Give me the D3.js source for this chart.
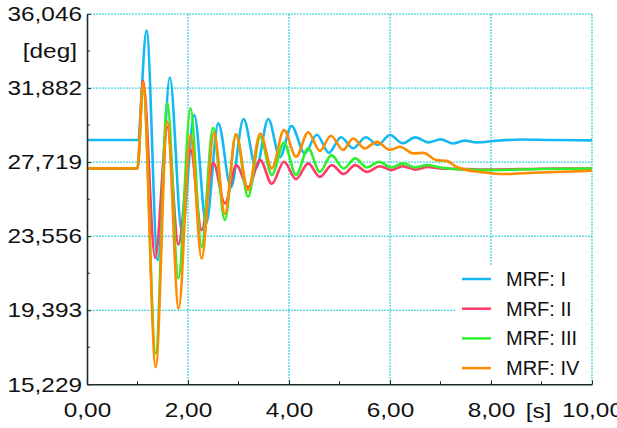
<!DOCTYPE html>
<html>
<head>
<meta charset="utf-8">
<script src="https://cdn.jsdelivr.net/npm/d3@7"></script>
<style>
  body { margin: 0; background: #fff; }
  svg { display: block; font-family: "Liberation Sans", Arial, sans-serif; }
</style>
</head>
<body>
<svg id="chart" width="617" height="428"></svg>
<script>
// tick labels
var xTicks = [0, 2, 4, 6, 8, 10];
var xMinor = [1, 3, 5, 7, 9];
var yTicks = [15.229, 19.393, 23.556, 27.719, 31.882, 36.046];

var names = ["MRF: I", "MRF: II", "MRF: III", "MRF: IV"];
var colors = ["#14b9f2", "#ff3a66", "#2ef02e", "#ff8c00"];

// [time s, angle deg]
var mrf1 = [[0,28.96],[1.0,28.96],[1.18,35.11],[1.40,22.21],[1.64,32.48],[1.88,23.8],[2.125,30.36],[2.36,24.29],
  [2.60,29.90],[2.85,26.3],[3.10,30.14],[3.35,27.4],[3.59,30.14],[3.82,28.0],[4.05,29.75],[4.31,28.21],
  [4.55,29.26],[4.79,28.25],[5.03,29.12],[5.27,28.5],[5.52,29.12],[5.76,28.68],[6.0,29.24],[6.25,28.78],
  [6.5,29.11],[6.76,28.83],[7.0,29.0],[7.25,28.77],[7.48,28.93],[7.72,28.83],[8.1,28.92],[8.6,28.99],
  [9.2,28.96],[10,28.94]];
var mrf2 = [[0,27.365],[1.0,27.365],[1.11,32.3],[1.35,22.34],[1.59,29.7],[1.81,23.09],[2.05,28.43],[2.27,23.89],
  [2.50,27.68],[2.73,25.4],[2.96,27.55],[3.19,26.3],[3.43,27.83],[3.66,26.5],[3.90,27.74],[4.14,26.76],
  [4.38,27.65],[4.61,26.89],[4.85,27.55],[5.08,27.05],[5.31,27.55],[5.54,27.17],[5.80,27.49],[6.03,27.27],
  [6.25,27.49],[6.5,27.3],[6.75,27.45],[7.0,27.36],[7.5,27.33],[8.0,27.3],[9.0,27.35],[10,27.36]];
var mrf3 = [[0,27.365],[1.0,27.365],[1.11,32.0],[1.36,16.96],[1.59,31.06],[1.81,21.18],[2.05,30.74],[2.27,22.95],
  [2.495,29.65],[2.73,24.46],[2.95,29.3],[3.19,25.77],[3.43,29.14],[3.66,26.99],[3.90,28.80],[4.14,27.0],
  [4.38,28.49],[4.61,27.17],[4.84,28.11],[5.08,27.36],[5.31,27.93],[5.54,27.42],[5.79,27.74],[6.02,27.42],
  [6.26,27.65],[6.5,27.42],[6.73,27.55],[7.0,27.42],[7.39,27.31],[7.9,27.27],[9.0,27.33],[10,27.36]];
var mrf4 = [[0,27.365],[1.0,27.365],[1.11,32.2],[1.36,16.20],[1.59,29.99],[1.815,19.49],[2.05,29.24],[2.27,22.30],
  [2.515,29.37],[2.73,24.80],[2.95,29.28],[3.19,26.14],[3.43,29.33],[3.66,27.36],[3.90,29.52],[4.14,28.02],
  [4.38,29.40],[4.61,28.35],[4.83,29.2],[5.07,28.4],[5.27,29.05],[5.50,28.49],[5.74,28.86],[6.0,28.40],
  [6.20,28.58],[6.46,28.21],[6.66,28.24],[6.92,27.83],[7.12,27.79],[7.32,27.45],[7.52,27.27],[7.78,27.17],
  [8.05,27.08],[8.31,27.05],[8.84,27.12],[10,27.23]];

var series = [mrf1, mrf2, mrf3, mrf4];

var svg = d3.select("#chart");
var pLeft = 87, pRight = 592, pTop = 14, pBottom = 384.3;

var x = d3.scaleLinear().domain([0, 10]).range([pLeft, pRight]);
var y = d3.scaleLinear().domain([15.229, 36.046]).range([pBottom, pTop]);

var loc = d3.formatLocale({decimal: ",", thousands: ".", grouping: [3], currency: ["", ""]});
var fx = loc.format(".2f"), fy = loc.format(".3f");

var grid = "#16c6d4";

// grid
svg.append("g").selectAll("line")
  .data(xTicks.slice(1))
  .enter().append("line")
  .attr("x1", function(d) { return x(d); }).attr("x2", function(d) { return x(d); })
  .attr("y1", pTop).attr("y2", pBottom)
  .attr("stroke", grid).attr("stroke-width", 1).attr("stroke-dasharray", "2,1");
svg.append("g").selectAll("line")
  .data(yTicks.slice(1))
  .enter().append("line")
  .attr("x1", pLeft).attr("x2", pRight)
  .attr("y1", function(d) { return y(d); }).attr("y2", function(d) { return y(d); })
  .attr("stroke", grid).attr("stroke-width", 1).attr("stroke-dasharray", "2,1");

// curves
var line = d3.line()
  .x(function(d) { return x(d[0]); })
  .y(function(d) { return y(d[1]); })
  .curve(d3.curveMonotoneX);

svg.append("g").selectAll("path")
  .data(series)
  .enter().append("path")
  .attr("d", line)
  .attr("fill", "none")
  .attr("stroke", function(d, i) { return colors[i]; })
  .attr("stroke-width", 2.6)
  .attr("stroke-linejoin", "round");

// legend
var leg = svg.append("g");
leg.append("rect")
  .attr("x", 456).attr("y", 265).attr("width", 134).attr("height", 118)
  .attr("fill", "#fff");
var items = leg.selectAll("g")
  .data(names)
  .enter().append("g")
  .attr("transform", function(d, i) { return "translate(0," + (279 + i * 29.7) + ")"; });
items.append("line")
  .attr("x1", 462).attr("x2", 491)
  .attr("stroke", function(d, i) { return colors[i]; })
  .attr("stroke-width", 2.5);
items.append("text")
  .attr("x", 506).attr("dy", "0.35em")
  .attr("font-size", 20)
  .attr("fill", "#111")
  .text(function(d) { return d; });

// axes
var axisColor = "#1c2b2b";
var yAxis = svg.append("g")
  .attr("transform", "translate(" + pLeft + ",0)")
  .call(d3.axisLeft(y).tickValues(yTicks).tickFormat(fy).tickSizeInner(-4).tickSizeOuter(0).tickPadding(5));
var xAxis = svg.append("g")
  .attr("transform", "translate(0," + pBottom + ")")
  .call(d3.axisBottom(x).tickValues(xTicks).tickFormat(fx).tickSizeInner(-4).tickSizeOuter(0).tickPadding(18));

svg.append("g")
  .attr("transform", "translate(" + pLeft + ",0)")
  .selectAll("line")
  .data(d3.pairs(yTicks, function(a, b) { return (a + b) / 2; }))
  .enter().append("line")
  .attr("x2", 3)
  .attr("y1", function(d) { return y(d); }).attr("y2", function(d) { return y(d); })
  .attr("stroke", axisColor);
svg.append("g")
  .attr("transform", "translate(0," + pBottom + ")")
  .selectAll("line")
  .data(xMinor)
  .enter().append("line")
  .attr("y2", -3)
  .attr("x1", function(d) { return x(d); }).attr("x2", function(d) { return x(d); })
  .attr("stroke", axisColor);

[yAxis, xAxis].forEach(function(a) {
  a.select(".domain").attr("stroke", axisColor).attr("stroke-width", 1.6);
  a.selectAll(".tick line").attr("stroke", axisColor);
  a.selectAll(".tick text")
    .attr("font-size", 21)
    .attr("font-family", "Liberation Sans, Arial, sans-serif")
    .attr("fill", "#111");
});
yAxis.selectAll(".tick text")
  .attr("x", -5 / 1.16)
  .attr("transform", "scale(1.16,1)");
xAxis.selectAll(".tick text")
  .attr("dy", "0.71em")
  .attr("transform", "scale(1.16,1)");

// unit labels
svg.append("text")
  .attr("x", 77 / 1.16).attr("y", 58)
  .attr("transform", "scale(1.16,1)")
  .attr("text-anchor", "end")
  .attr("font-size", 21)
  .attr("fill", "#111")
  .text("[deg]");
svg.append("text")
  .attr("x", 538.5 / 1.16).attr("y", 417.7)
  .attr("transform", "scale(1.16,1)")
  .attr("text-anchor", "middle")
  .attr("font-size", 21)
  .attr("fill", "#111")
  .text("[s]");
</script>
</body>
</html>
